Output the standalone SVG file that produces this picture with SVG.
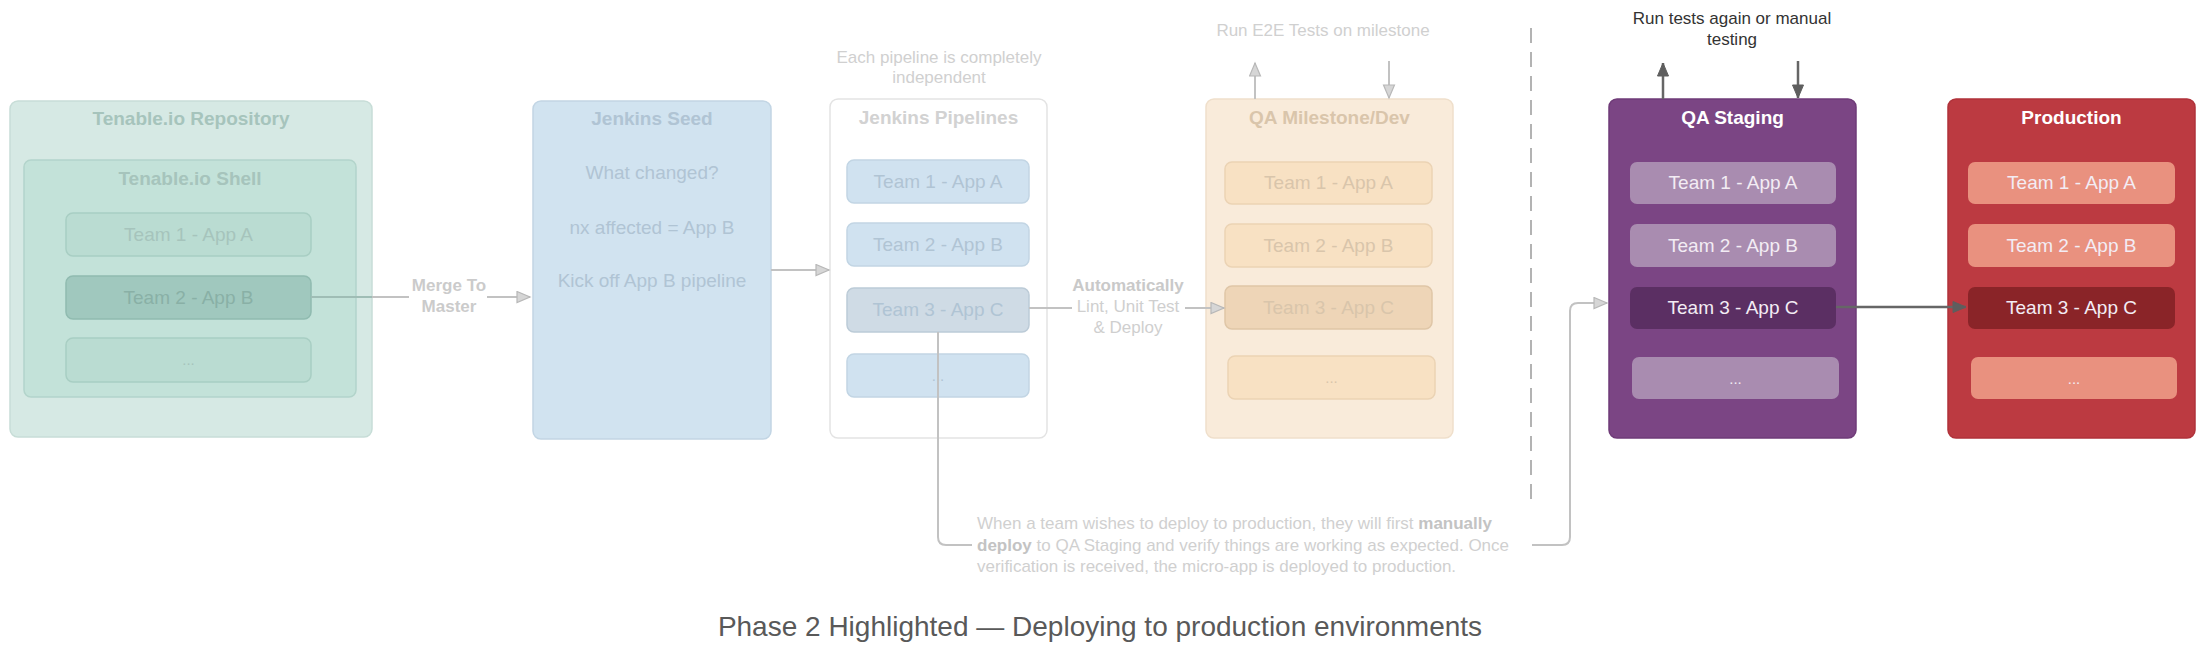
<svg xmlns="http://www.w3.org/2000/svg" width="2202" height="670" viewBox="0 0 2202 670">
<defs>
<style>
text{font-family:"Liberation Sans",Arial,Helvetica,sans-serif;}
.t{font-size:19px;text-anchor:middle;}
.b{font-weight:bold;}
.s{font-size:17px;}
.dots{font-size:15px;text-anchor:middle;}
.repo{fill:#d6e9e4;stroke:#c7ddd7;stroke-width:1.5;}
.shell{fill:#c3e2d9;stroke:#b3d4cb;stroke-width:1.5;}
.grow{fill:#badcd2;stroke:#a8cec3;stroke-width:1.5;}
.grow2{fill:#a0c8be;stroke:#90bbb0;stroke-width:1.5;}
.gtxt{fill:#a6c4bc;}
.gtxt2{fill:#89b0a6;}
.seed{fill:#d1e3f0;stroke:#c2d5e4;stroke-width:1.5;}
.stxt{fill:#b0c4d4;}
.pipe{fill:#ffffff;stroke:#e3e3e3;stroke-width:1.5;}
.brow{fill:#d0e2f0;stroke:#c2d5e4;stroke-width:1.5;}
.brow3{fill:#cfdbe5;stroke:#bccbd7;stroke-width:1.5;}
.ms{fill:#f9ebda;stroke:#efdfcb;stroke-width:1.5;}
.orow{fill:#f8e1c3;stroke:#ebd3b4;stroke-width:1.5;}
.orow3{fill:#eed5b7;stroke:#dfc6a7;stroke-width:1.5;}
.otxt{fill:#d9c5ab;}
.qa{fill:#7b4584;stroke:#6f3b78;stroke-width:1.5;}
.prow{fill:#a98cb0;}
.prow3{fill:#5b2f63;}
.prod{fill:#bc3a41;stroke:#b0323a;stroke-width:1.5;}
.rrow{fill:#e9917f;}
.rrow3{fill:#8a2428;}
.wt{fill:#ffffff;}
.lt{fill:#f3ecf4;}
.note{fill:#d0d0d0;}
.fc{fill:none;stroke:#c2c2c2;stroke-width:2;}
.dc{fill:none;stroke:#666666;stroke-width:2.5;}
</style>
<marker id="af" markerUnits="userSpaceOnUse" markerWidth="16" markerHeight="14" refX="14" refY="6.5" orient="auto">
<path d="M1,1 L14,6.5 L1,12 Z" fill="#d6d6d6" stroke="#b8b8b8" stroke-width="1.2"/>
</marker>
<marker id="ad" markerUnits="userSpaceOnUse" markerWidth="16" markerHeight="14" refX="14" refY="6.5" orient="auto">
<path d="M1,1 L14,6.5 L1,12 Z" fill="#5e5e5e" stroke="#5e5e5e" stroke-width="1"/>
</marker>
</defs>

<g id="repository">
<rect class="repo" x="10" y="101" width="362" height="336" rx="8"/>
<text class="t b gtxt" x="191" y="125">Tenable.io Repository</text>
</g>
<g id="shell">
<rect class="shell" x="24" y="160" width="332" height="237" rx="7"/>
<text class="t b gtxt" x="190" y="185">Tenable.io Shell</text>
</g>
<g id="repo-team1">
<rect class="grow" x="66" y="213" width="245" height="43" rx="7"/>
<text class="t gtxt" x="188.5" y="241">Team 1 - App A</text>
</g>
<g id="repo-team2">
<rect class="grow2" x="66" y="276" width="245" height="43" rx="7"/>
<text class="t gtxt2" x="188.5" y="304">Team 2 - App B</text>
</g>
<g id="repo-more">
<rect class="grow" x="66" y="338" width="245" height="44" rx="7"/>
<text class="dots gtxt" x="188.5" y="365">...</text>
</g>

<g id="jenkins-seed">
<rect class="seed" x="533" y="101" width="238" height="338" rx="8"/>
<text class="t b stxt" x="652" y="125">Jenkins Seed</text>
<text class="t stxt" x="652" y="179">What changed?</text>
<text class="t stxt" x="652" y="234">nx affected = App B</text>
<text class="t stxt" x="652" y="287">Kick off App B pipeline</text>
</g>

<g id="jenkins-pipelines">
<rect class="pipe" x="830" y="99" width="217" height="339" rx="8"/>
<text class="t b" x="938.5" y="124" fill="#d2d2d2">Jenkins Pipelines</text>
<text class="s note" x="939" y="63" text-anchor="middle">Each pipeline is completely</text>
<text class="s note" x="939" y="83" text-anchor="middle">independent</text>
</g>
<g id="pipe-team1">
<rect class="brow" x="847" y="160" width="182" height="43" rx="7"/>
<text class="t stxt" x="938" y="188">Team 1 - App A</text>
</g>
<g id="pipe-team2">
<rect class="brow" x="847" y="223" width="182" height="43" rx="7"/>
<text class="t stxt" x="938" y="251">Team 2 - App B</text>
</g>
<g id="pipe-team3">
<rect class="brow3" x="847" y="288" width="182" height="44" rx="7"/>
<text class="t stxt" x="938" y="316">Team 3 - App C</text>
</g>
<g id="pipe-more">
<rect class="brow" x="847" y="354" width="182" height="43" rx="7"/>
<text class="dots stxt" x="938" y="381">...</text>
</g>

<g id="qa-milestone">
<rect class="ms" x="1206" y="99" width="247" height="339" rx="8"/>
<text class="t b otxt" x="1329.5" y="124">QA Milestone/Dev</text>
<text class="s note" x="1323" y="36" text-anchor="middle">Run E2E Tests on milestone</text>
</g>
<g id="ms-team1">
<rect class="orow" x="1225" y="162" width="207" height="42" rx="7"/>
<text class="t otxt" x="1328.5" y="189">Team 1 - App A</text>
</g>
<g id="ms-team2">
<rect class="orow" x="1225" y="224" width="207" height="43" rx="7"/>
<text class="t otxt" x="1328.5" y="252">Team 2 - App B</text>
</g>
<g id="ms-team3">
<rect class="orow3" x="1225" y="286" width="207" height="43" rx="7"/>
<text class="t otxt" x="1328.5" y="314">Team 3 - App C</text>
</g>
<g id="ms-more">
<rect class="orow" x="1228" y="356" width="207" height="43" rx="7"/>
<text class="dots otxt" x="1331.5" y="383">...</text>
</g>

<g id="qa-staging">
<rect class="qa" x="1609" y="99" width="247" height="339" rx="8"/>
<text class="t b wt" x="1732.5" y="124">QA Staging</text>
<text class="s" x="1732" y="24" text-anchor="middle" fill="#333333">Run tests again or manual</text>
<text class="s" x="1732" y="45" text-anchor="middle" fill="#333333">testing</text>
</g>
<g id="qa-team1">
<rect class="prow" x="1630" y="162" width="206" height="42" rx="7"/>
<text class="t lt" x="1733" y="189">Team 1 - App A</text>
</g>
<g id="qa-team2">
<rect class="prow" x="1630" y="224" width="206" height="43" rx="7"/>
<text class="t lt" x="1733" y="252">Team 2 - App B</text>
</g>
<g id="qa-team3">
<rect class="prow3" x="1630" y="287" width="206" height="42" rx="7"/>
<text class="t lt" x="1733" y="314">Team 3 - App C</text>
</g>
<g id="qa-more">
<rect class="prow" x="1632" y="357" width="207" height="42" rx="7"/>
<text class="dots lt" x="1735.5" y="384">...</text>
</g>

<g id="production">
<rect class="prod" x="1948" y="99" width="247" height="339" rx="8"/>
<text class="t b wt" x="2071.5" y="124">Production</text>
</g>
<g id="prod-team1">
<rect class="rrow" x="1968" y="162" width="207" height="42" rx="7"/>
<text class="t lt" x="2071.5" y="189">Team 1 - App A</text>
</g>
<g id="prod-team2">
<rect class="rrow" x="1968" y="224" width="207" height="43" rx="7"/>
<text class="t lt" x="2071.5" y="252">Team 2 - App B</text>
</g>
<g id="prod-team3">
<rect class="rrow3" x="1968" y="287" width="207" height="42" rx="7"/>
<text class="t lt" x="2071.5" y="314">Team 3 - App C</text>
</g>
<g id="prod-more">
<rect class="rrow" x="1971" y="357" width="206" height="42" rx="7"/>
<text class="dots lt" x="2074" y="384">...</text>
</g>

<g id="connectors">
<path d="M311,297 H372" fill="none" stroke="#9fbdb5" stroke-width="2"/>
<path class="fc" d="M372,297 H409"/>
<path class="fc" d="M487,297 H530" marker-end="url(#af)"/>
<text class="s b" x="449" y="291" text-anchor="middle" fill="#cbcbcb">Merge To</text>
<text class="s b" x="449" y="312" text-anchor="middle" fill="#cbcbcb">Master</text>

<path class="fc" d="M771,270 H829" marker-end="url(#af)"/>

<path class="fc" d="M1029,308 H1072"/>
<path class="fc" d="M1185,308 H1224" marker-end="url(#af)"/>
<text class="s b" x="1128" y="291" text-anchor="middle" fill="#c9c9c9">Automatically</text>
<text class="s" x="1128" y="312" text-anchor="middle" fill="#cfcfcf">Lint, Unit Test</text>
<text class="s" x="1128" y="333" text-anchor="middle" fill="#cfcfcf">&amp; Deploy</text>

<path class="fc" d="M1255,99 V63" marker-end="url(#af)"/>
<path class="fc" d="M1389,61 V98" marker-end="url(#af)"/>

<path d="M1531,28 V505" fill="none" stroke="#b3b3b3" stroke-width="2" stroke-dasharray="15 9"/>

<path class="fc" d="M938,332 V537 Q938,545 946,545 H972"/>
<path class="fc" d="M1532,545 H1562 Q1570,545 1570,537 V311 Q1570,303 1578,303 H1607" marker-end="url(#af)"/>
<text class="s note" x="977" y="529">When a team wishes to deploy to production, they will first <tspan font-weight="bold" fill="#c3c3c3">manually</tspan></text>
<text class="s note" x="977" y="551"><tspan font-weight="bold" fill="#c3c3c3">deploy</tspan> to QA Staging and verify things are working as expected. Once</text>
<text class="s note" x="977" y="572">verification is received, the micro-app is deployed to production.</text>

<path class="dc" d="M1663,99 V63" marker-end="url(#ad)"/>
<path class="dc" d="M1798,61 V98" marker-end="url(#ad)"/>
<path class="dc" d="M1836,307 H1966" marker-end="url(#ad)"/>
</g>

<text x="1100" y="636" font-size="28" text-anchor="middle" fill="#595959">Phase 2 Highlighted — Deploying to production environments</text>
</svg>
